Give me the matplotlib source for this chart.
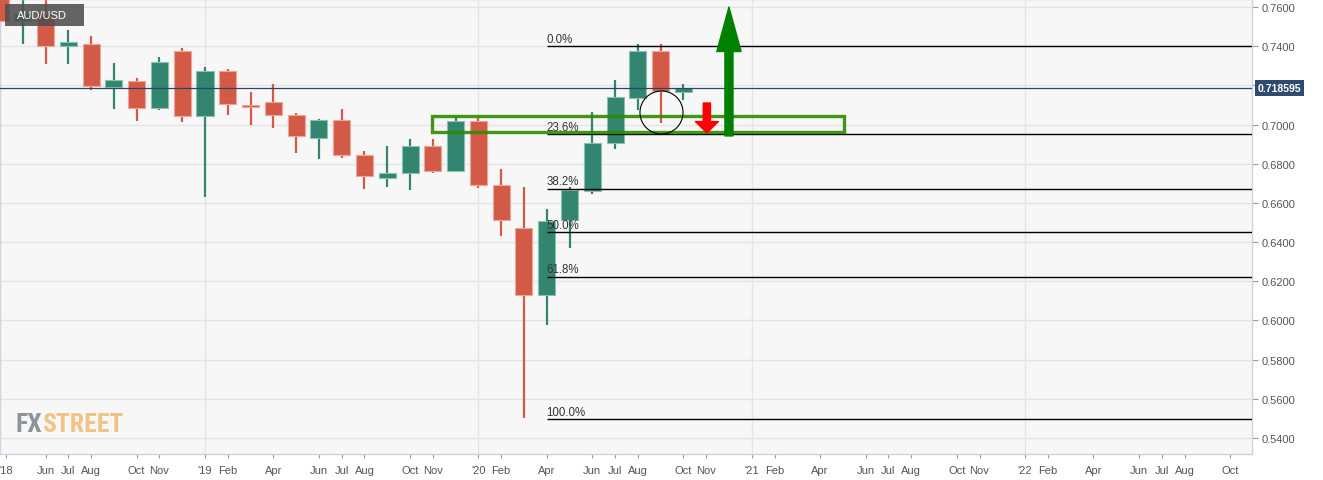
import matplotlib
matplotlib.use("Agg")
import matplotlib.pyplot as plt
from matplotlib.patches import Rectangle
from matplotlib.transforms import blended_transform_factory
from matplotlib import font_manager
from matplotlib.font_manager import FontProperties

# ---------------- data (monthly AUD/USD, month index: Jan 2018 = 0) ----------------
months = list(range(3, 34))  # Apr 2018 .. Oct 2020
opens = [0.7680, 0.7530, 0.7567, 0.7400, 0.7410, 0.7190, 0.7224, 0.7083, 0.7374, 0.7042,
         0.7272, 0.7100, 0.7113, 0.7050, 0.6930, 0.7023, 0.6846, 0.6726, 0.6751, 0.6892,
         0.6764, 0.7017, 0.6693, 0.6470, 0.6130, 0.6513, 0.6659, 0.6904, 0.7134, 0.7377,
         0.7165]
highs = [0.7813, 0.7677, 0.7677, 0.7483, 0.7454, 0.7314, 0.7238, 0.7343, 0.7389, 0.7292,
         0.7283, 0.7164, 0.7207, 0.7059, 0.7028, 0.7079, 0.6863, 0.6892, 0.6926, 0.6926,
         0.7037, 0.7033, 0.6773, 0.6680, 0.6569, 0.6680, 0.7062, 0.7227, 0.7411, 0.7411,
         0.7207]
lows = [0.7500, 0.7411, 0.7310, 0.7309, 0.7175, 0.7079, 0.7020, 0.7076, 0.7014, 0.6632,
        0.7049, 0.6998, 0.6982, 0.6855, 0.6824, 0.6829, 0.6671, 0.6683, 0.6666, 0.6753,
        0.6759, 0.6676, 0.6433, 0.5503, 0.5978, 0.6370, 0.6645, 0.6875, 0.7074, 0.7006,
        0.7127]
closes = [0.7531, 0.7567, 0.7400, 0.7420, 0.7195, 0.7227, 0.7084, 0.7318, 0.7042, 0.7272,
          0.7103, 0.7088, 0.7050, 0.6943, 0.7023, 0.6846, 0.6739, 0.6753, 0.6892, 0.6761,
          0.7017, 0.6693, 0.6514, 0.6130, 0.6509, 0.6666, 0.6904, 0.7142, 0.7377, 0.7173,
          0.7185]

current_price = 0.718595
fib_labels = ["0.0%", "23.6%", "38.2%", "50.0%", "61.8%", "100.0%"]
fib_prices = [0.7400, 0.6951, 0.6673, 0.6450, 0.6224, 0.5497]
fib_start = 27  # Apr 2020

zone_months = (21.95, 40.05)
zone_prices = (0.6961, 0.7042)

tick_pos = [3.27, 5, 6, 7, 9, 10, 12, 13, 15, 17, 18, 19, 21, 22, 24, 25, 27, 29, 30, 31,
            33, 34, 36, 37, 39, 41, 42, 43, 45, 46, 48, 49, 51, 53, 54, 55, 57]
tick_lab = ["'18", "Jun", "Jul", "Aug", "Oct", "Nov", "'19", "Feb", "Apr", "Jun", "Jul", "Aug",
            "Oct", "Nov", "'20", "Feb", "Apr", "Jun", "Jul", "Aug", "Oct", "Nov", "'21", "Feb",
            "Apr", "Jun", "Jul", "Aug", "Oct", "Nov", "'22", "Feb", "Apr", "Jun", "Jul", "Aug",
            "Oct"]
y_ticks = [0.54, 0.56, 0.58, 0.60, 0.62, 0.64, 0.66, 0.68, 0.70, 0.72, 0.74, 0.76]
y_labels = ["0.5400", "0.5600", "0.5800", "0.6000", "0.6200", "0.6400", "0.6600", "0.6800",
            "0.7000", "", "0.7400", "0.7600"]

UP = "#32856f"
UP_EDGE = "#8ec0b1"
DN = "#d45a48"
DN_EDGE = "#eba79c"

plt.rcParams['font.family'] = ['Liberation Sans', 'DejaVu Sans']


# ---------- font selection (condensed faces if installed) ----------
def _wnum(w):
    if isinstance(w, (int, float)):
        return int(w)
    return font_manager.weight_dict.get(str(w), 400)


def _is_narrow(f):
    st = f.stretch
    if "Narrow" in f.name or "Condensed" in f.name:
        return True
    if isinstance(st, (int, float)):
        return st <= 87.5
    return str(st) in ("condensed", "semi-condensed", "extra-condensed")


pref = ["Liberation Sans Narrow", "Roboto Condensed", "DejaVu Sans", "Noto Sans", "Open Sans"]


def _rank(f):
    for i, p in enumerate(pref):
        if f.name.startswith(p):
            return i
    return len(pref)


cands = [f for f in font_manager.fontManager.ttflist
         if _is_narrow(f) and f.style == "normal" and f.fname.lower().endswith((".ttf", ".otf"))]
bold_c = sorted([f for f in cands if 600 <= _wnum(f.weight) <= 800], key=_rank)
reg_c = [f for f in cands if f.name == "Liberation Sans Narrow" and _wnum(f.weight) == 400]

if bold_c:
    logo_fp = FontProperties(fname=bold_c[0].fname)
else:
    logo_fp = FontProperties(family=["Liberation Sans", "DejaVu Sans"], weight="bold")

if reg_c:
    xtick_fp = FontProperties(fname=reg_c[0].fname, size=9.3)
else:
    xtick_fp = FontProperties(family=["Liberation Sans", "DejaVu Sans"], size=8)

fig = plt.figure(figsize=(13.23, 4.81), dpi=100)
fig.patch.set_facecolor("white")
ax = fig.add_axes([0, 26 / 481, 1252 / 1323, 455 / 481])
ax.set_facecolor("#f7f7f7")
ax.set_xlim(3.0, 57.96)
ax.set_ylim(0.5318, 0.7641)

# grid
for yv in y_ticks:
    ax.axhline(yv, color="#e4e4e4", lw=1.0, zorder=0)
for xv in [12, 24, 36, 48]:
    ax.axvline(xv, color="#e4e4e4", lw=1.0, zorder=0)

# candles
for m, o, h, l, c in zip(months, opens, highs, lows, closes):
    up = c >= o
    col = UP if up else DN
    ecol = UP_EDGE if up else DN_EDGE
    ax.vlines(m, l, h, color=col, lw=1.6, zorder=2)
    ax.bar(m, abs(c - o), bottom=min(o, c), width=0.75, color=col,
           edgecolor=ecol, linewidth=0.8, zorder=3)

# current price line
ax.axhline(current_price, color="#2d4463", lw=0.9, zorder=4)

# fib lines
for lab, p in zip(fib_labels, fib_prices):
    ax.hlines(p, fib_start, 57.96, color="black", lw=1.0, zorder=5)
    ax.text(fib_start - 0.02, p + 0.0007, lab, fontsize=8.3, color="#333333",
            ha="left", va="bottom", zorder=6)

# support zone
ax.add_patch(Rectangle((zone_months[0], zone_prices[0]), zone_months[1] - zone_months[0],
                       zone_prices[1] - zone_prices[0], fill=False,
                       edgecolor="#2f8a00", lw=2.4, alpha=0.9, zorder=6))

# circle around Sep wick
ax.plot([32], [0.7062], marker="o", markersize=31, mfc="none", mec="black",
        mew=0.8, zorder=7)

# arrows
ax.annotate("", xy=(35.0, 0.7600), xytext=(35.0, 0.6942),
            arrowprops=dict(arrowstyle="simple,head_length=3.2,head_width=1.75,tail_width=0.58",
                            mutation_scale=10, color="#008000", shrinkA=0, shrinkB=0),
            zorder=8)
ax.annotate("", xy=(34.03, 0.6957), xytext=(34.03, 0.7110),
            arrowprops=dict(arrowstyle="simple,head_length=0.82,head_width=1.65,tail_width=0.52",
                            mutation_scale=10, color="#ff0000", shrinkA=0, shrinkB=0),
            zorder=8)

# axes styling
for s in ax.spines.values():
    s.set_color("#cdd3e3")
    s.set_linewidth(1.0)
ax.yaxis.tick_right()
ax.set_yticks(y_ticks)
ax.set_yticklabels(y_labels)
ax.tick_params(axis="y", colors="#999999", labelcolor="#555555", labelsize=8,
               length=4, width=0.8, pad=3)
ax.set_xticks(tick_pos)
ax.set_xticklabels(tick_lab, fontproperties=xtick_fp)
ax.tick_params(axis="x", colors="#999999", labelcolor="#555555", length=3, width=0.8, pad=5)

# price label on right
trans = blended_transform_factory(ax.transAxes, ax.transData)
ax.text(1.0045, current_price, "0.718595", transform=trans, fontsize=7.5, fontweight="bold",
        color="white", ha="left", va="center", clip_on=False, zorder=10,
        bbox=dict(boxstyle="square,pad=0.3", fc="#2f4b6e", ec="none"))

# symbol label
ax.add_patch(Rectangle((0.004, 0.9407), 0.0631, 0.0484, transform=ax.transAxes,
                       facecolor="#4f4f4f", alpha=0.88, edgecolor="none", zorder=9))
ax.text(0.0136, 0.9655, "AUD/USD", transform=ax.transAxes, fontsize=8, color="white",
        ha="left", va="center", zorder=10)

# logo: size fitted to ~108 px width
fp1 = logo_fp.copy()
fp1.set_size(20)
fx = ax.text(0.012, 0.04, "FX", transform=ax.transAxes, fontproperties=fp1,
             color="#8e949c", ha="left", va="bottom", zorder=9)
st = ax.annotate("STREET", xy=(1, 0), xycoords=fx, fontproperties=fp1.copy(),
                 color="#f2c386", ha="left", va="bottom", zorder=9)
r = fig.canvas.get_renderer()
w = fx.get_window_extent(r).width + st.get_window_extent(r).width
new_size = max(12, min(30, 20 * 108.0 / w))
fx.set_fontsize(new_size)
st.set_fontsize(new_size)

fig.savefig("out.png", dpi=100, facecolor="white")
